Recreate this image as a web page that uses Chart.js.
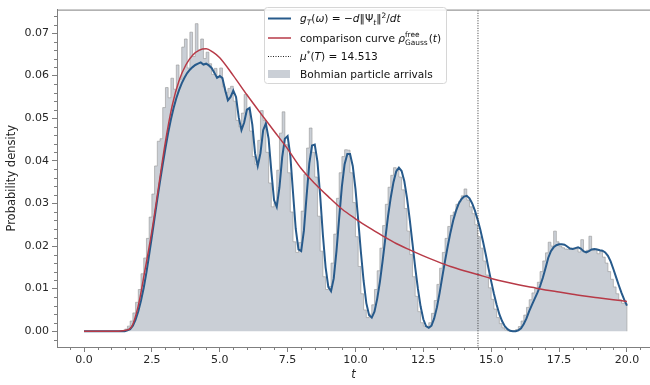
<!DOCTYPE html>
<html>
<head>
<meta charset="utf-8">
<script src="https://cdn.jsdelivr.net/npm/chart.js@4.4.1/dist/chart.umd.min.js"></script>
<style>
  html, body { margin: 0; padding: 0; background: #fff; }
</style>
</head>
<body>
<canvas id="graph" width="650" height="385"></canvas>
<script>
// histogram of Bohmian arrival times (density per bin), bins of width 0.1 starting at t = 1.5
const binStart = 1.5;
const binWidth = 0.1;
const arrivalDensity = [
  0.0001, 0.0005, 0.0012, 0.0024, 0.0043, 0.0068, 0.0098, 0.0135, 0.0172, 0.0218,
  0.0268, 0.0322, 0.0388, 0.0446, 0.0452, 0.0525, 0.0572, 0.0548, 0.0594, 0.0568,
  0.0625, 0.0592, 0.0667, 0.0686, 0.0618, 0.0702, 0.0645, 0.0722, 0.0660, 0.0686,
  0.0640, 0.0655, 0.0628, 0.0603, 0.0617, 0.0596, 0.0618, 0.0574, 0.0560, 0.0570,
  0.0575, 0.0540, 0.0495, 0.0480, 0.0512, 0.0556, 0.0520, 0.0470, 0.0410, 0.0392,
  0.0448, 0.0518, 0.0495, 0.0420, 0.0348, 0.0292, 0.0302, 0.0378, 0.0465, 0.0515,
  0.0438, 0.0372, 0.0280, 0.0210, 0.0185, 0.0208, 0.0282, 0.0368, 0.0430, 0.0477,
  0.0420, 0.0362, 0.0270, 0.0188, 0.0128, 0.0098, 0.0105, 0.0160, 0.0228, 0.0312,
  0.0372, 0.0410, 0.0426, 0.0425, 0.0372, 0.0302, 0.0222, 0.0152, 0.0088, 0.0050,
  0.0032, 0.0040, 0.0062, 0.0098, 0.0142, 0.0195, 0.0248, 0.0298, 0.0338, 0.0366,
  0.0384, 0.0380, 0.0362, 0.0332, 0.0288, 0.0235, 0.0180, 0.0128, 0.0082, 0.0046,
  0.0020, 0.0012, 0.0010, 0.0020, 0.0042, 0.0072, 0.0110, 0.0148, 0.0185, 0.0218,
  0.0246, 0.0272, 0.0280, 0.0298, 0.0305, 0.0318, 0.0334, 0.0308, 0.0292, 0.0276,
  0.0250, 0.0222, 0.0195, 0.0165, 0.0132, 0.0102, 0.0075, 0.0052, 0.0032, 0.0018,
  0.0008, 0.0003, 0.0001, 0.0000, 0.0001, 0.0004, 0.0011, 0.0024, 0.0038, 0.0056,
  0.0074, 0.0090, 0.0100, 0.0115, 0.0140, 0.0165, 0.0184, 0.0209, 0.0200, 0.0235,
  0.0210, 0.0200, 0.0196, 0.0193, 0.0192, 0.0195, 0.0193, 0.0194, 0.0186, 0.0215,
  0.0186, 0.0190, 0.0223, 0.0190, 0.0193, 0.0182, 0.0188, 0.0174, 0.0160, 0.0140,
  0.0122, 0.0104, 0.0088, 0.0074, 0.0066
];

// g_T(omega) sampled every 0.1 from t = 0 to 20
const curveStep = 0.1;
const gT = [
  0, 0, 0, 0, 0, 0, 0, 0, 0, 0,
  0, 0, 0, 0, 0, 0, 0.0002, 0.0005, 0.0013, 0.0027,
  0.0047, 0.0072, 0.0102, 0.0138, 0.0180, 0.0222, 0.0266, 0.0310, 0.0352, 0.0392,
  0.0430, 0.0466, 0.0497, 0.0524, 0.0547, 0.0566, 0.0582, 0.0595, 0.0606, 0.0614,
  0.0620, 0.0625, 0.0628, 0.0631, 0.0626, 0.0628, 0.0624, 0.0618, 0.0607, 0.0595,
  0.0599, 0.0594, 0.0566, 0.0542, 0.0550, 0.0565, 0.0550, 0.0502, 0.0472, 0.0490,
  0.0520, 0.0524, 0.0485, 0.0418, 0.0388, 0.0418, 0.0472, 0.0488, 0.0452, 0.0376,
  0.0308, 0.0292, 0.0338, 0.0408, 0.0452, 0.0458, 0.0412, 0.0325, 0.0240, 0.0192,
  0.0188, 0.0236, 0.0318, 0.0394, 0.0436, 0.0438, 0.0398, 0.0318, 0.0226, 0.0150,
  0.0104, 0.0094, 0.0124, 0.0188, 0.0266, 0.0340, 0.0392, 0.0416, 0.0416, 0.0388,
  0.0334, 0.0262, 0.0186, 0.0118, 0.0066, 0.0038, 0.0032, 0.0046, 0.0076, 0.0116,
  0.0165, 0.0218, 0.0270, 0.0314, 0.0350, 0.0375, 0.0384, 0.0376, 0.0352, 0.0312,
  0.0262, 0.0206, 0.0150, 0.0100, 0.0058, 0.0028, 0.0012, 0.0008, 0.0013, 0.0030,
  0.0056, 0.0090, 0.0128, 0.0165, 0.0200, 0.0232, 0.0260, 0.0282, 0.0299, 0.0310,
  0.0316, 0.0318, 0.0312, 0.0300, 0.0283, 0.0262, 0.0238, 0.0210, 0.0180, 0.0148,
  0.0117, 0.0088, 0.0062, 0.0040, 0.0024, 0.0012, 0.0005, 0.0001, 0.0000, 0.0000,
  0.0002, 0.0007, 0.0017, 0.0030, 0.0047, 0.0062, 0.0076, 0.0090, 0.0106, 0.0125,
  0.0148, 0.0172, 0.0188, 0.0197, 0.0202, 0.0204, 0.0204, 0.0203, 0.0199, 0.0194,
  0.0193, 0.0195, 0.0197, 0.0194, 0.0188, 0.0185, 0.0188, 0.0192, 0.0193, 0.0192,
  0.0190, 0.0189, 0.0185, 0.0177, 0.0164, 0.0146, 0.0127, 0.0108, 0.0090, 0.0074,
  0.0060
];

// free Gaussian comparison curve
const rhoT = [0, 0.5, 1.0, 1.5, 1.75, 2.0, 2.25, 2.5, 2.75, 3.0, 3.25, 3.5, 3.75, 4.0, 4.25,
  4.5, 4.75, 5.0, 5.5, 6.0, 6.5, 7.0, 7.5, 8.0, 8.5, 9.0, 9.5, 10.0, 10.5, 11.0, 11.5,
  12.0, 12.5, 13.0, 13.5, 14.0, 14.5, 15.0, 15.5, 16.0, 16.5, 17.0, 17.5, 18.0, 18.5,
  19.0, 19.5, 20.0];
const rhoFree = [0, 0, 0, 0.0002, 0.0010, 0.0060, 0.0145, 0.0235, 0.0340, 0.0445, 0.0530,
  0.0588, 0.0625, 0.0648, 0.0660, 0.0663, 0.0655, 0.0642, 0.0600, 0.0555, 0.0512, 0.0470,
  0.0428, 0.0382, 0.0347, 0.0316, 0.0287, 0.0264, 0.0243, 0.0224, 0.0206, 0.0191, 0.0177,
  0.0164, 0.0152, 0.0142, 0.0133, 0.0124, 0.0116, 0.0109, 0.0103, 0.0097, 0.0092, 0.0087,
  0.0082, 0.0078, 0.0074, 0.0070];

const muStar = 14.513;

const xTicks = [0, 2.5, 5, 7.5, 10, 12.5, 15, 17.5, 20];
const yTicks = [0, 0.01, 0.02, 0.03, 0.04, 0.05, 0.06, 0.07];
const xMinorStep = 0.5;
const yMinorStep = 0.002;

const FONT = '"DejaVu Sans", sans-serif';
const AXIS_GRAY = '#7f7f7f';
const BLUE = '#275a8b';
const RED = '#b73a47';
const HIST_FILL = '#cacfd6';
const HIST_EDGE = 'rgba(150,150,150,0.6)';

// build datasets from arrays
const histPoints = arrivalDensity.map((v, i) => ({ x: +(binStart + i * binWidth).toFixed(3), y: v }));
histPoints.push({ x: +(binStart + arrivalDensity.length * binWidth).toFixed(3), y: arrivalDensity[arrivalDensity.length - 1] });
histPoints.push({ x: +(binStart + arrivalDensity.length * binWidth).toFixed(3), y: 0 });

const gPoints = gT.map((v, i) => ({ x: +(i * curveStep).toFixed(3), y: v }));
const rhoPoints = rhoT.map((t, i) => ({ x: t, y: rhoFree[i] }));

function drawRich(ctx, x, y, segs, size) {
  let cx = x;
  segs.forEach(s => {
    if (s.stack) {
      ctx.font = (size * 0.7) + 'px ' + FONT;
      const w1 = ctx.measureText(s.stack[0]).width;
      const w2 = ctx.measureText(s.stack[1]).width;
      ctx.fillText(s.stack[0], cx, y - size * 0.42);
      ctx.fillText(s.stack[1], cx, y + size * 0.3);
      cx += Math.max(w1, w2) + 1;
      return;
    }
    const small = s.sub || s.sup;
    const fs = small ? size * 0.7 : size;
    ctx.font = (s.it ? 'italic ' : '') + fs + 'px ' + FONT;
    const dy = s.sub ? size * 0.25 : (s.sup ? -size * 0.4 : 0);
    ctx.fillText(s.t, cx, y + dy);
    cx += ctx.measureText(s.t).width;
  });
}

const legendRows = [
  { kind: 'line', color: BLUE, width: 2, segs: [
    { t: 'g', it: 1 }, { t: 'T', it: 1, sub: 1 }, { t: '(' }, { t: 'ω', it: 1 }, { t: ')' },
    { t: ' = ' }, { t: '−' }, { t: 'd', it: 1 }, { t: '‖Ψ' }, { t: 't', it: 1, sub: 1 },
    { t: '‖' }, { t: '2', sup: 1 }, { t: '/' }, { t: 'dt', it: 1 } ] },
  { kind: 'line', color: RED, width: 1.5, segs: [
    { t: 'comparison curve ' }, { t: 'ρ', it: 1 }, { stack: ['free', 'Gauss'] },
    { t: '(' }, { t: 't', it: 1 }, { t: ')' } ] },
  { kind: 'dot', color: '#222', width: 1, segs: [
    { t: 'μ', it: 1 }, { t: '*', sup: 1 }, { t: '(' }, { t: 'T', it: 1 }, { t: ')' },
    { t: ' = 14.513' } ] },
  { kind: 'patch', color: HIST_FILL, segs: [{ t: 'Bohmian particle arrivals' }] }
];

const axesPlugin = {
  id: 'mplAxes',
  afterDraw(chart) {
    const ctx = chart.ctx;
    const xs = chart.scales.x, ys = chart.scales.y;
    const a = chart.chartArea;
    ctx.save();
    ctx.strokeStyle = AXIS_GRAY;
    ctx.lineWidth = 1;
    // top spine
    ctx.beginPath();
    ctx.moveTo(a.left, a.top + 0.5);
    ctx.lineTo(a.right, a.top + 0.5);
    ctx.stroke();
    // minor ticks
    ctx.beginPath();
    for (let k = Math.ceil(xs.min / xMinorStep); k * xMinorStep <= xs.max; k++) {
      const v = k * xMinorStep;
      if (xTicks.some(t => Math.abs(t - v) < 1e-9)) continue;
      const px = Math.round(xs.getPixelForValue(v)) + 0.5;
      ctx.moveTo(px, a.bottom);
      ctx.lineTo(px, a.bottom + 3);
    }
    for (let k = Math.ceil(ys.min / yMinorStep); k * yMinorStep <= ys.max; k++) {
      const v = k * yMinorStep;
      if (yTicks.some(t => Math.abs(t - v) < 1e-9)) continue;
      const py = Math.round(ys.getPixelForValue(v)) + 0.5;
      ctx.moveTo(a.left, py);
      ctx.lineTo(a.left - 3, py);
    }
    ctx.stroke();

    // legend box
    const bx = 264.5, by = 7.5, bw = 182, bh = 76;
    ctx.beginPath();
    ctx.roundRect(bx, by, bw, bh, 3);
    ctx.fillStyle = 'rgba(255,255,255,0.85)';
    ctx.fill();
    ctx.strokeStyle = '#d6d6d6';
    ctx.stroke();
    const rowY = [18.5, 38, 56.5, 74];
    const fs = 10.6;
    legendRows.forEach((r, i) => {
      const cy = rowY[i];
      if (r.kind === 'patch') {
        ctx.fillStyle = r.color;
        ctx.fillRect(268, cy - 4, 22, 8);
      } else {
        ctx.beginPath();
        ctx.strokeStyle = r.color;
        ctx.lineWidth = r.width;
        ctx.setLineDash(r.kind === 'dot' ? [1, 1.5] : []);
        ctx.moveTo(268, cy);
        ctx.lineTo(291, cy);
        ctx.stroke();
        ctx.setLineDash([]);
      }
      ctx.fillStyle = '#111';
      ctx.textBaseline = 'alphabetic';
      drawRich(ctx, 300, cy + fs * 0.36, r.segs, fs);
    });
    ctx.restore();
  }
};

new Chart(document.getElementById('graph'), {
  type: 'line',
  data: {
    datasets: [
      { label: 'mu', data: [{ x: muStar, y: -1 }, { x: muStar, y: 1 }], borderColor: '#333',
        borderWidth: 1, borderDash: [1, 1.5], pointRadius: 0, order: 0 },
      { label: 'rho', data: rhoPoints, borderColor: RED, borderWidth: 1.5, pointRadius: 0,
        cubicInterpolationMode: 'monotone', order: 1 },
      { label: 'g', data: gPoints, borderColor: BLUE, borderWidth: 2, pointRadius: 0,
        tension: 0, order: 2 },
      { label: 'hist', data: histPoints, borderColor: HIST_EDGE, borderWidth: 1,
        backgroundColor: HIST_FILL, fill: 'origin', stepped: 'after', pointRadius: 0, order: 3 }
    ]
  },
  options: {
    responsive: false,
    animation: false,
    devicePixelRatio: 1,
    layout: { padding: { top: 2, right: 0, left: 0, bottom: 0 } },
    plugins: { legend: { display: false }, tooltip: { enabled: false } },
    scales: {
      x: {
        type: 'linear', min: -0.995, max: 20.85,
        afterBuildTicks: s => { s.ticks = xTicks.map(v => ({ value: v })); },
        afterFit: s => { s.height = 38; },
        grid: { display: true, drawOnChartArea: false, drawTicks: true, tickLength: 5, color: AXIS_GRAY },
        border: { display: true, color: AXIS_GRAY },
        ticks: { font: { family: FONT, size: 11 }, color: '#262626', padding: 2,
          maxRotation: 0, callback: v => v.toFixed(1) },
        title: { display: true, text: 't', font: { family: FONT, size: 11.5, style: 'italic' },
          color: '#262626', padding: { top: 0, bottom: 3 } }
      },
      y: {
        type: 'linear', min: -0.0037, max: 0.0755,
        afterBuildTicks: s => { s.ticks = yTicks.map(v => ({ value: v })); },
        afterFit: s => { s.width = 57; },
        grid: { display: true, drawOnChartArea: false, drawTicks: true, tickLength: 5, color: AXIS_GRAY },
        border: { display: true, color: AXIS_GRAY },
        ticks: { font: { family: FONT, size: 11 }, color: '#262626', padding: 3,
          callback: v => v.toFixed(2) },
        title: { display: true, text: 'Probability density', font: { family: FONT, size: 11.5 },
          color: '#262626', padding: { top: 5, bottom: 0 } }
      }
    }
  },
  plugins: [axesPlugin]
});
</script>
</body>
</html>
